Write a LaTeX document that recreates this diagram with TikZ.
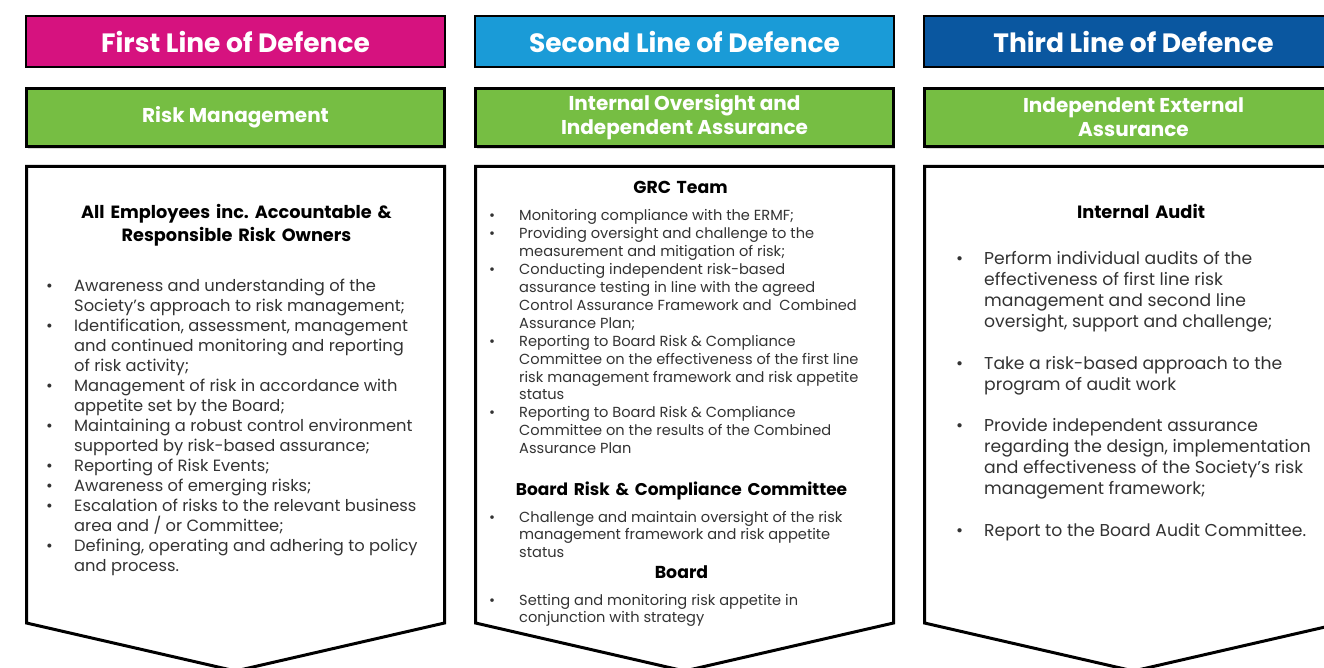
\documentclass[tikz,border=0pt]{standalone}
\usepackage{fontspec}
\setmainfont{Poppins}
\usetikzlibrary{shadows}
\frenchspacing
\definecolor{linepink}{HTML}{D6127F}
\definecolor{lineblue}{HTML}{1A9BD7}
\definecolor{linenavy}{HTML}{0A57A0}
\definecolor{linegreen}{HTML}{76BE43}
\definecolor{bodytext}{HTML}{333333}
% bullet item with hanging indent
\newcommand{\bul}[1][28pt]{\par\hangindent=#1\hangafter=1\noindent\hbox to #1{\textbullet\hfil}\ignorespaces}
% list block, first baseline on the node's base
\newcommand{\blist}[2][0pt]{\begin{minipage}[t]{400pt}\parskip=#1\rightskip=0pt plus 1fil#2\end{minipage}}

\begin{document}
\begin{tikzpicture}[x=1pt, y=-1pt,
  headbox/.style={draw=black, line width=2.5pt, minimum width=419pt, minimum height=51pt,
    text=white, font=\fontsize{26.5}{30}\selectfont\bfseries},
  subbox/.style={draw=black, line width=3pt, fill=linegreen, minimum width=418pt, minimum height=58pt,
    text=white, align=center, font=\fontsize{20}{24}\selectfont\bfseries,
    drop shadow={shadow xshift=1pt, shadow yshift=-3pt, opacity=0.3}},
  bodybox/.style={draw=black, line width=3pt, line join=miter, fill=white},
  title/.style={anchor=base, inner sep=0pt, text width=400pt, align=center,
    font=\fontsize{17.3}{23}\selectfont\bfseries},
  listA/.style={anchor=base west, inner sep=0pt, text=bodytext, font=\fontsize{16.3}{20}\selectfont},
  listB/.style={anchor=base west, inner sep=0pt, text=bodytext, font=\fontsize{14.6}{17.9}\selectfont},
  listC/.style={anchor=base west, inner sep=0pt, text=bodytext, font=\fontsize{17.2}{20.85}\selectfont}]
\useasboundingbox (0,0) rectangle (1324,668);
\clip (0,0) rectangle (1324,668);

% top row
\node[headbox, fill=linepink] (first) at (235.5,41.5) {First Line of Defence};
\node[headbox, fill=lineblue] (second) at (684.5,41.5) {Second Line of Defence};
\node[headbox, fill=linenavy] (third) at (1133.5,41.5) {Third Line of Defence};

% green row
\node[subbox] (firstsub) at (235.5,117.5) {Risk Management};
\node[subbox] (secondsub) at (684.5,117.5) {Internal Oversight and\\Independent Assurance};
\node[subbox] (thirdsub) at (1133.5,117.5) {Independent External\\Assurance};

% chevron bodies
\draw[bodybox] (26.5,166.5) -- (444.5,166.5) -- (444.5,623) -- (235.5,671) -- (26.5,623) -- cycle;
\draw[bodybox] (475.5,166.5) -- (893.5,166.5) -- (893.5,623) -- (684.5,671) -- (475.5,623) -- cycle;
\draw[bodybox] (924.5,166.5) -- (1342.5,166.5) -- (1342.5,623) -- (1133.5,671) -- (924.5,623) -- cycle;

% first line
\node[title, font=\fontsize{17.7}{23}\selectfont\bfseries] (firsttitle) at (236.5,219) {All Employees inc. Accountable \&\\Responsible Risk Owners};
\node[listA] (firstlist) at (46,291.5) {\blist{%
  \bul Awareness and understanding of the\\Society’s approach to risk management;
  \bul Identification, assessment, management\\and continued monitoring and reporting\\of risk activity;
  \bul Management of risk in accordance with\\appetite set by the Board;
  \bul Maintaining a robust control environment\\supported by risk-based assurance;
  \bul Reporting of Risk Events;
  \bul Awareness of emerging risks;
  \bul Escalation of risks to the relevant business\\area and / or Committee;
  \bul Defining, operating and adhering to policy\\and process.}};

% second line
\node[title] (grctitle) at (680.5,194) {GRC Team};
\node[listB] (grclist) at (489,221) {\blist{%
  \bul[30pt] Monitoring compliance with the ERMF;
  \bul[30pt] Providing oversight and challenge to the\\measurement and mitigation of risk;
  \bul[30pt] Conducting independent risk-based\\assurance testing in line with the agreed\\Control Assurance Framework and \ Combined\\Assurance Plan;
  \bul[30pt] Reporting to Board Risk \& Compliance\\Committee on the effectiveness of the first line\\risk management framework and risk appetite\\status
  \bul[30pt] Reporting to Board Risk \& Compliance\\Committee on the results of the Combined\\Assurance Plan}};
\node[title, font=\fontsize{17}{23}\selectfont\bfseries] (brcctitle) at (681.5,495) {Board Risk \& Compliance Committee};
\node[listB] (brcclist) at (489,522) {\blist{%
  \bul[30pt] Challenge and maintain oversight of the risk\\management framework and risk appetite\\status}};
\node[title] (boardtitle) at (681.5,578) {Board};
\node[listB] (boardlist) at (489,605) {\blist{%
  \bul[30pt] Setting and monitoring risk appetite in\\conjunction with strategy}};

% third line
\node[title, font=\fontsize{17.8}{23}\selectfont\bfseries] (audittitle) at (1141,219) {Internal Audit};
\node[listC] (auditlist) at (956,265) {\blist[20.85pt]{%
  \bul Perform individual audits of the\\effectiveness of first line risk\\management and second line\\oversight, support and challenge;
  \bul Take a risk-based approach to the\\program of audit work
  \bul Provide independent assurance\\regarding the design, implementation\\and effectiveness of the Society’s risk\\management framework;
  \bul Report to the Board Audit Committee.}};
\end{tikzpicture}
\end{document}
